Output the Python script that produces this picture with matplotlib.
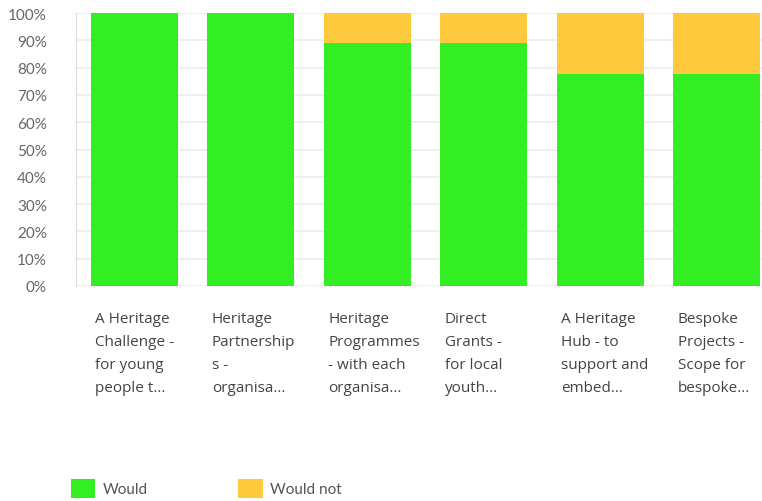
import matplotlib.pyplot as plt
from matplotlib.patches import Patch
from matplotlib.transforms import blended_transform_factory

categories = [
    "A Heritage\nChallenge -\nfor young\npeople t...",
    "Heritage\nPartnership\ns -\norganisa...",
    "Heritage\nProgrammes\n- with each\norganisa...",
    "Direct\nGrants -\nfor local\nyouth...",
    "A Heritage\nHub - to\nsupport and\nembed...",
    "Bespoke\nProjects -\nScope for\nbespoke...",
]
would = [100.0, 100.0, 88.89, 88.89, 77.78, 77.78]
would_not = [0.0, 0.0, 11.11, 11.11, 22.22, 22.22]
yticks = list(range(0, 101, 10))

green = "#33ee22"
orange = "#ffc93d"

fig = plt.figure(figsize=(7.62, 5.02), dpi=100)
ax = fig.add_axes([76 / 762, 1 - 287 / 502, 699 / 762, 273 / 502])

x = list(range(len(categories)))
ax.bar(x, would, width=0.75, color=green, zorder=3)
ax.bar(x, would_not, width=0.75, bottom=would, color=orange, zorder=3)

ax.set_xlim(-0.5, len(categories) - 0.5)
ax.set_ylim(0, 100)
ax.set_yticks(yticks)
ax.set_yticklabels([f"{t}%" for t in yticks], fontsize=11, color="#666666",
                   family="Lato")
ax.tick_params(axis="y", length=0, pad=21)
ax.set_xticks([])
ax.grid(axis="y", color="#ececec", linewidth=1.2, zorder=0)
for s in ["top", "right", "bottom"]:
    ax.spines[s].set_visible(False)
ax.spines["left"].set_color("#dddddd")

trans = blended_transform_factory(ax.transData, ax.transAxes)
for i, label in enumerate(categories):
    ax.text(i - 0.335, -0.09, label, transform=trans, ha="left", va="top",
            fontsize=11, color="#444444", family="Open Sans", linespacing=1.74)

handles = [Patch(facecolor=green, label="Would"),
           Patch(facecolor=orange, label="Would not")]
fig.legend(handles=handles, loc="lower left", bbox_to_anchor=(0.075, -0.022),
           ncol=2, frameon=False, handlelength=1.6,
           handleheight=1.6, columnspacing=5.9, handletextpad=0.5,
           labelcolor="#555555", prop={"family": "Lato", "size": 11})

fig.savefig("out.png", dpi=100)
